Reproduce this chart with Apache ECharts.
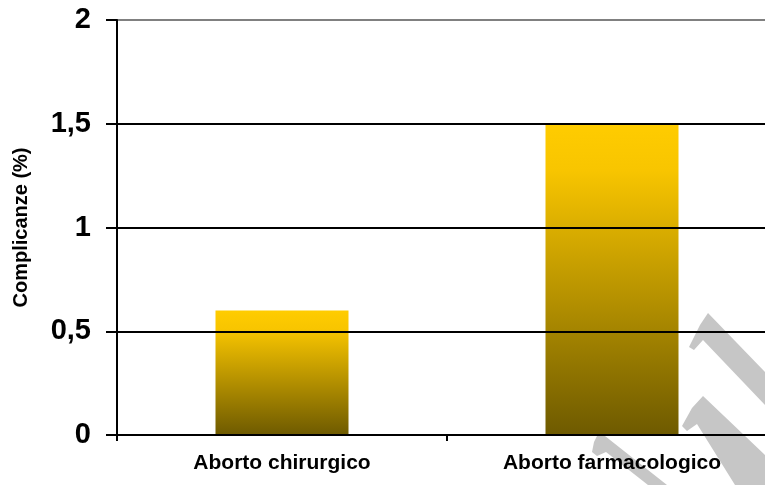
<!DOCTYPE html>
<html>
<head>
<meta charset="utf-8">
<script src="https://cdn.jsdelivr.net/npm/echarts@6/dist/echarts.min.js"></script>
<style>
  html, body { margin: 0; padding: 0; background: #fff; overflow: hidden; width: 765px; height: 485px; }
  /* the plot runs a little past the right edge of the window */
  #chart { width: 777px; height: 485px; }
</style>
</head>
<body>
<div id="chart"></div>
<script>
// Complication rates by type of abortion
const categories = ['Aborto chirurgico', 'Aborto farmacologico'];
const complications = [0.6, 1.5];
const yTicks = [0, 0.5, 1, 1.5, 2];

const FONT = '"Liberation Sans", Arial, Helvetica, sans-serif';

const chart = echarts.init(document.getElementById('chart'), null, { renderer: 'canvas' });

const barGradient = new echarts.graphic.LinearGradient(0, 0, 0, 1, [
  { offset: 0, color: '#FFCC00' },
  { offset: 0.15, color: '#F8C500' },
  { offset: 1, color: '#6E5A00' }
]);

const mark = '#c6c6c6';

chart.setOption({
  animation: false,
  backgroundColor: '#ffffff',
  grid: { left: 117, top: 20, right: 0, bottom: 50, containLabel: false },
  xAxis: {
    type: 'category',
    data: categories,
    boundaryGap: true,
    z: 5,
    axisLine: { show: true, lineStyle: { color: '#000', width: 2 } },
    axisTick: { show: true, length: 6, lineStyle: { color: '#000', width: 2 } },
    axisLabel: {
      color: '#000', fontFamily: FONT, fontWeight: 'bold', fontSize: 21, margin: 18
    },
    splitLine: { show: false }
  },
  yAxis: {
    type: 'value',
    min: yTicks[0],
    max: yTicks[yTicks.length - 1],
    interval: 0.5,
    z: 5,
    name: 'Complicanze (%)',
    nameLocation: 'middle',
    nameGap: 86,
    nameRotate: 90,
    nameTextStyle: { color: '#000', fontFamily: FONT, fontWeight: 'bold', fontSize: 20 },
    axisLine: { show: true, lineStyle: { color: '#000', width: 2 } },
    axisTick: { show: true, length: 11, lineStyle: { color: '#000', width: 2 } },
    axisLabel: {
      color: '#000', fontFamily: FONT, fontWeight: 'bold', fontSize: 29, margin: 26,
      formatter: v => String(v).replace('.', ',')
    },
    splitLine: {
      show: true,
      lineStyle: { color: ['#000', '#000', '#000', '#000', '#808080'], width: 2 }
    }
  },
  graphic: {
    elements: [
      {
        type: 'polygon', z: 1, silent: true,
        shape: { points: [[708, 313], [765, 372], [765, 405], [703, 340], [694, 350], [689, 347], [700, 325]] },
        style: { fill: mark }
      },
      {
        type: 'polygon', z: 1, silent: true,
        shape: { points: [[703, 396], [765, 455], [765, 485], [735, 485], [697, 424], [687, 431], [682, 426], [692, 408]] },
        style: { fill: mark }
      },
      {
        type: 'polygon', z: 1, silent: true,
        shape: { points: [[598, 434], [605, 436], [667, 485], [648, 485], [606, 452], [597, 456], [592, 452], [594, 442]] },
        style: { fill: mark }
      }
    ]
  },
  series: [{
    type: 'bar',
    data: complications,
    barWidth: 133,
    itemStyle: { color: barGradient },
    z: 3
  }]
});
</script>
</body>
</html>
